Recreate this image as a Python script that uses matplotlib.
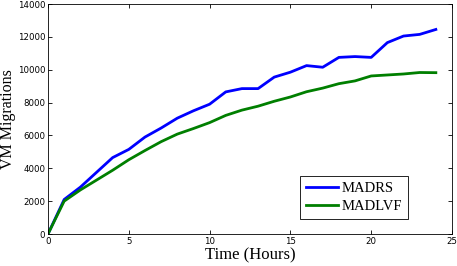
import matplotlib.pyplot as plt

# data
hours = list(range(0, 25))
madrs = [0, 2100, 2850, 3750, 4650, 5150, 5900, 6450, 7050, 7500, 7900, 8650,
         8850, 8850, 9550, 9850, 10250, 10150, 10750, 10800, 10750, 11650,
         12050, 12150, 12450]
madlvf = [0, 2000, 2680, 3280, 3880, 4520, 5080, 5620, 6080, 6420, 6780, 7220,
          7540, 7780, 8080, 8340, 8660, 8880, 9150, 9320, 9620, 9680, 9740,
          9830, 9820]

fig = plt.figure(figsize=(4.57, 2.66), dpi=100)
ax = fig.add_axes([48 / 457, 32 / 266, 404 / 457, 230 / 266])

ax.plot(hours, madrs, color='#0000ff', linewidth=2.0, label='MADRS')
ax.plot(hours, madlvf, color='#007f00', linewidth=2.0, label='MADLVF')

ax.set_xlim(0, 25)
ax.set_ylim(0, 14000)
ax.set_xticks([0, 5, 10, 15, 20, 25])
ax.set_yticks(range(0, 14001, 2000))
ax.tick_params(direction='in', top=True, right=True, labelsize=6.2,
               length=3, width=0.6, pad=2)
for s in ax.spines.values():
    s.set_linewidth(0.6)

ax.set_xlabel('Time (Hours)', family='Liberation Serif', fontsize=12, labelpad=1)
ax.set_ylabel('VM Migrations', family='Liberation Serif', fontsize=11.5)
ax.yaxis.set_label_coords(-0.08, 0.5)

leg = ax.legend(loc='lower right', bbox_to_anchor=(0.89, 0.065),
                prop={'family': 'Liberation Serif', 'size': 10.5},
                fancybox=False, edgecolor='black', framealpha=1,
                handlelength=2.2, handletextpad=0.2, borderpad=0.4,
                labelspacing=0.35, borderaxespad=0)
leg.get_frame().set_linewidth(0.6)

plt.savefig('out.png', dpi=100)
